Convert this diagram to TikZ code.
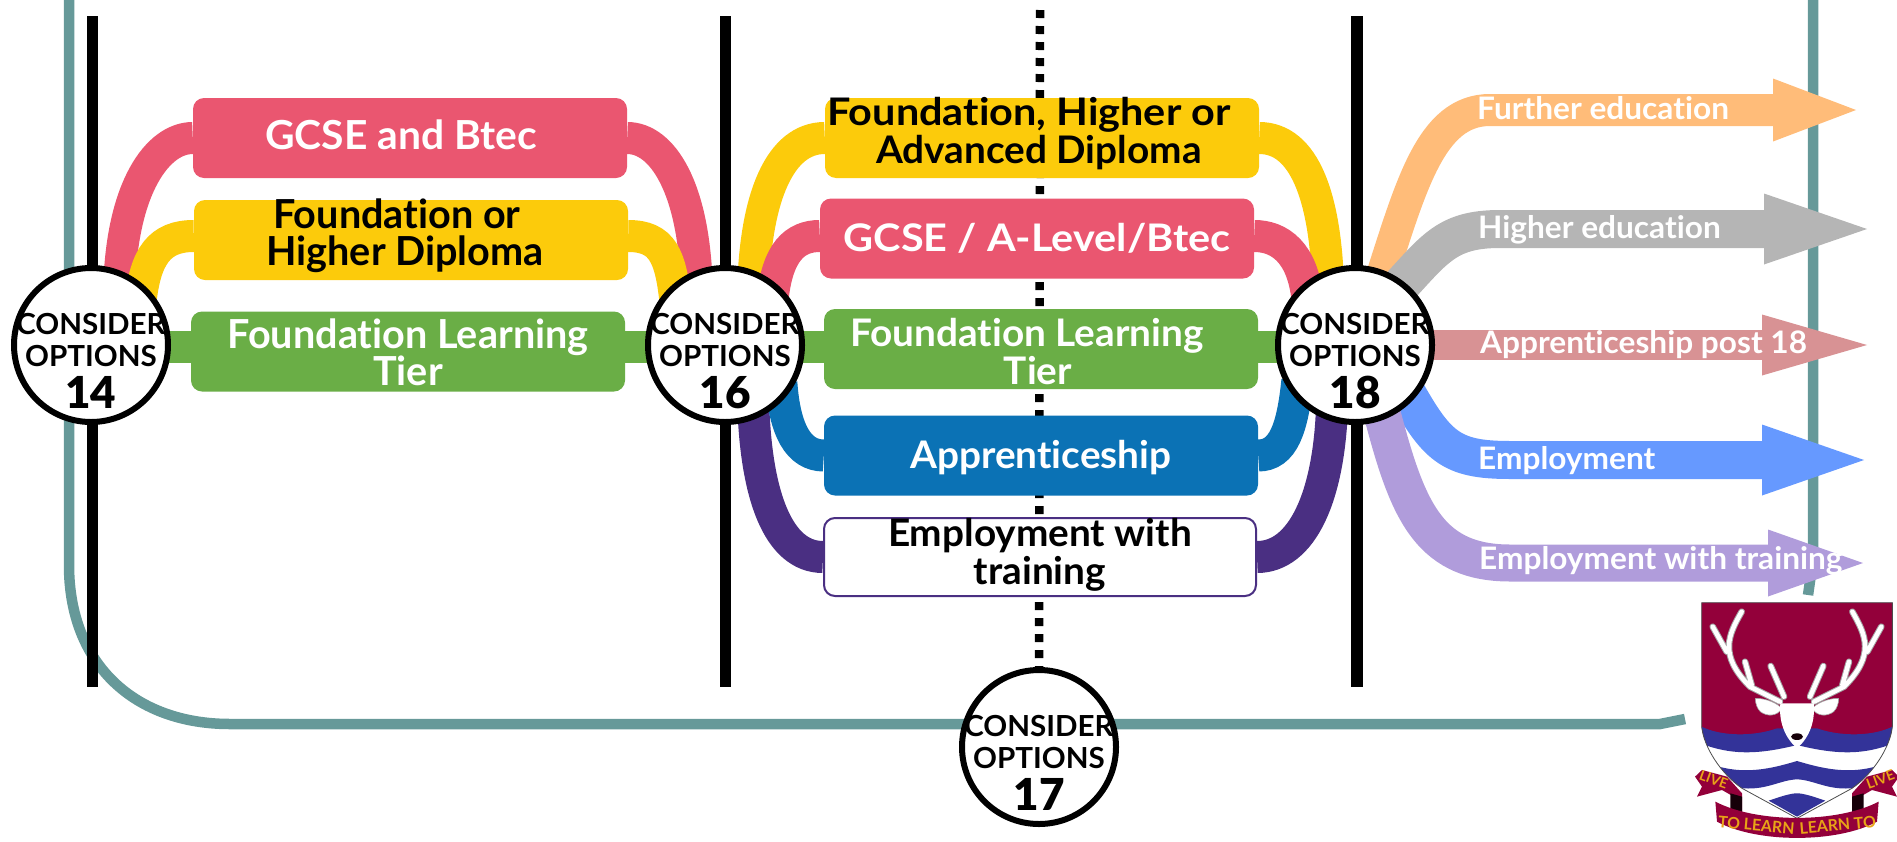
\documentclass[tikz,border=0pt]{standalone}
\usepackage{fontspec}
\usepackage{xcolor}
\usepackage{tikz}
\usetikzlibrary{arrows.meta}
\newfontfamily\tallfont[FakeStretch=0.99, Ligatures=NoCommon]{Lato Bold}
\newfontfamily\widefont[FakeStretch=1.02, Ligatures=NoCommon]{Lato Bold}
\newfontfamily\broadfont[FakeStretch=1.09, Ligatures=NoCommon]{Lato Bold}
\newfontfamily\heavyfont{Lato Black}
\newcommand{\lefttext}{\tallfont\fontsize{40}{37}\selectfont}
\newcommand{\midtext}{\widefont\fontsize{38}{38}\selectfont}
\newcommand{\midbroad}{\broadfont\fontsize{38}{38}\selectfont}
\newcommand{\outtext}{\widefont\fontsize{31}{31}\selectfont}
\newcommand{\numtext}{\heavyfont\fontsize{44}{36}\selectfont}
\definecolor{tealline}{HTML}{669999}
\definecolor{rosecol}{HTML}{EA5670}
\definecolor{goldcol}{HTML}{FCCB0B}
\definecolor{leafcol}{HTML}{6AAE46}
\definecolor{seacol}{HTML}{0B72B5}
\definecolor{plumcol}{HTML}{4A2F82}
\definecolor{peachcol}{HTML}{FFBC79}
\definecolor{greycol}{HTML}{B5B5B5}
\definecolor{dustcol}{HTML}{D89294}
\definecolor{skycol}{HTML}{6699FF}
\definecolor{lilaccol}{HTML}{B09CDB}
\definecolor{crestred}{HTML}{93003A}
\definecolor{crestblue}{HTML}{333399}
\definecolor{crestgold}{HTML}{E8A317}
\pgfdeclarelayer{nodelayer}
\pgfdeclarelayer{edgelayer}
\pgfsetlayers{edgelayer,nodelayer,main}
\tikzset{
  optbox/.style={rectangle, rounded corners=11pt, minimum width=434pt, minimum height=80pt, inner sep=0pt},
  boxtext/.style={align=center, text=white, inner sep=0pt},
  opt/.style={circle, draw, fill=white, line width=6pt, minimum size=154pt, inner sep=0pt},
  opttext/.style={align=center, inner sep=0pt, yshift=-16pt, font=\widefont\fontsize{29}{32}\selectfont},
  band/.style={line width=32pt, shorten <=-18pt},
  outarrow/.style={shorten <=-18pt},
  outtag/.style={anchor=base west, inner sep=0pt, text=white, font=\outtext},
  cresttext/.style={text=crestgold, inner sep=0pt, font=\tallfont\fontsize{#1}{#1}\selectfont}
}
\begin{document}
\begin{tikzpicture}[x=1pt, y=-1pt]
  \useasboundingbox (0,0) rectangle (1897,841);
  \begin{pgfonlayer}{nodelayer}
    \node [optbox, fill=rosecol, label={[boxtext, font=\widefont\fontsize{40}{37}\selectfont, xshift=-9pt, yshift=3pt]center:GCSE and Btec}] (gcsea) at (410,138) {};
    \node [optbox, fill=goldcol, label={[boxtext, font=\lefttext, text=black, yshift=4pt, xshift=-6pt]center:\hspace*{-16pt}Foundation or\\Higher Diploma}] (diploa) at (411,240) {};
    \node [optbox, fill=leafcol, label={[boxtext, font=\lefttext, yshift=-1pt]center:Foundation Learning\\Tier}] (tiera) at (408,351.5) {};
    \node [optbox, fill=goldcol, label={[boxtext, font=\midbroad, text=black, xshift=-13pt, yshift=4pt]center:Foundation, Higher or\\\hspace*{20pt}{\midtext Advanced Diploma}}] (diplob) at (1042,138) {};
    \node [optbox, fill=rosecol, label={[boxtext, font=\midbroad]center:GCSE / A-Level/Btec}] (gcseb) at (1037,238.5) {};
    \node [optbox, fill=leafcol, label={[boxtext, font=\midtext, xshift=-14pt, yshift=-2.5pt]center:Foundation Learning\\\hspace*{22pt}Tier}] (tierb) at (1041,349) {};
    \node [optbox, fill=seacol, label={[boxtext, font=\midtext, yshift=-2pt]center:Apprenticeship}] (appren) at (1041,455.5) {};
    \node [optbox, fill=white, draw=plumcol, line width=2pt, minimum width=432pt, minimum height=78pt, label={[boxtext, font=\midtext, text=black, yshift=2pt]center:Employment with\\training}] (traina) at (1040,557) {};
    \node [opt, label={[opttext]center:CONSIDER\\OPTIONS\\[9pt]{\numtext 14}}] (opta) at (91,345) {};
    \node [opt, label={[opttext]center:CONSIDER\\OPTIONS\\[9pt]{\numtext 16}}] (optb) at (725,345) {};
    \node [opt, label={[opttext]center:CONSIDER\\OPTIONS\\[9pt]{\numtext 18}}] (optc) at (1355,345) {};
    \node [opt, label={[opttext]center:CONSIDER\\OPTIONS\\[9pt]{\numtext 17}}] (optd) at (1039,747) {};
    \node [outtag] (further) at (1477,119) {Further education};
    \node [outtag] (higher) at (1478,238) {Higher education};
    \node [outtag] (post) at (1480,353) {Apprenticeship post 18};
    \node [outtag] (employ) at (1478,469) {Employment};
    \node [outtag] (withtrain) at (1479,569) {Employment with training};
  \end{pgfonlayer}
  \coordinate (furtherend) at (1856,110);
  \coordinate (higherend) at (1867,229);
  \coordinate (postend) at (1867,345);
  \coordinate (employend) at (1864,460);
  \coordinate (trainend) at (1863,563);
  \coordinate (linea) at (92.5,16);
  \coordinate (lineb) at (92.5,687);
  \coordinate (linec) at (725.5,16);
  \coordinate (lined) at (725.5,687);
  \coordinate (linee) at (1357,16);
  \coordinate (linef) at (1357,687);
  \coordinate (dota) at (1040,10);
  \begin{pgfonlayer}{edgelayer}
    \draw [tealline, line width=10.5pt] (69,0) -- (69,565) .. controls (69,665) and (135,724) .. (230,724) -- (1660,724) -- (1685,719);
    \draw [tealline, line width=10.5pt] (1813,0) -- (1813,560) -- (1808,595);
    \draw [line width=11pt] (linea) to (lineb);
    \draw [line width=11pt] (linec) to (lined);
    \draw [line width=11.5pt] (linee) to (linef);
    \draw [line width=8.5pt, dash pattern=on 8pt off 8pt] (dota) to (optd);
    \draw [band, rosecol] (opta.69) .. controls +(2,-83) and +(-35,0) .. (gcsea.west);
    \draw [band, rosecol] (optb.111) .. controls +(-2,-83) and +(35,0) .. (gcsea.east);
    \draw [band, goldcol] (opta.50) .. controls +(3,-28) and +(-34,0) .. ([yshift=4pt]diploa.west);
    \draw [band, goldcol] (optb.130) .. controls +(-3,-28) and +(34,0) .. ([yshift=4pt]diploa.east);
    \draw [band, leafcol] ([yshift=-2pt]opta.center) to ([yshift=4.5pt]tiera.west);
    \draw [band, leafcol] ([yshift=-2pt]optb.center) to ([yshift=4.5pt]tiera.east);
    \draw [band, goldcol] (optb.69) .. controls +(2,-73) and +(-45,0) .. (diplob.west);
    \draw [band, goldcol] (optc.110) .. controls +(-2,-73) and +(45,0) .. (diplob.east);
    \draw [band, rosecol] (optb.52) .. controls +(3,-30) and +(-25,0) .. ([yshift=2.5pt]gcseb.west);
    \draw [band, rosecol] (optc.128) .. controls +(-3,-30) and +(25,0) .. ([yshift=2.5pt]gcseb.east);
    \draw [band, leafcol] ([yshift=-2pt]optb.center) to ([yshift=2pt]tierb.west);
    \draw [band, leafcol] ([yshift=-2pt]optc.center) to ([yshift=2pt]tierb.east);
    \draw [band, plumcol] (optb.-69) .. controls +(2,75) and +(-45,0) .. (traina.west);
    \draw [band, plumcol] (optc.-107) .. controls +(-2,75) and +(45,0) .. (traina.east);
    \draw [band, seacol] (optb.-44) .. controls +(2,30) and +(-25,0) .. (appren.west);
    \draw [band, seacol] (optc.-138) .. controls +(-3,30) and +(25,0) .. (appren.east);
    \draw [outarrow, line width=32pt, peachcol, -{Triangle[length=83pt, width=63pt, line width=0pt]}] (optc.69) .. controls +(27,-83) and +(-60,0) .. (1490,110) -- (furtherend);
    \draw [outarrow, line width=38pt, greycol, -{Triangle[length=103pt, width=71pt, line width=0pt]}] (optc.52) .. controls +(30,-32) and +(-55,0) .. (1500,229) -- (higherend);
    \draw [outarrow, line width=30pt, dustcol, -{Triangle[length=105pt, width=61pt, line width=0pt]}] (optc.center) to (postend);
    \draw [outarrow, line width=38pt, skycol, -{Triangle[length=102pt, width=71pt, line width=0pt]}] (optc.-45) .. controls +(25,45) and +(-60,0) .. (1510,460) -- (employend);
    \draw [outarrow, line width=37pt, lilaccol, -{Triangle[length=95pt, width=67pt, line width=0pt]}] (optc.-69) .. controls +(22,85) and +(-85,0) .. (1510,563) -- (trainend);
  \end{pgfonlayer}
  \begin{scope}[shift={(1797,580)}, x=0.3333pt, y=-0.3333pt]
    \begin{scope}
      \clip (-286,68) -- (286,68) -- (286,440) .. controls (280,500) and (230,580) .. (165,625) -- (0,715) -- (-165,625) .. controls (-230,580) and (-280,500) .. (-286,440) -- cycle;
      \fill [white] (-290,60) rectangle (290,720);
      \fill [crestred] (-290,60) rectangle (290,480);
      \fill [crestblue] (-290,438) .. controls (-230,470) and (-130,470) .. (-60,445) -- (60,445) .. controls (130,470) and (230,470) .. (290,438) -- (290,490) .. controls (200,525) and (120,525) .. (0,495) .. controls (-120,525) and (-200,525) .. (-290,490) -- cycle;
      \fill [crestblue] (-290,540) .. controls (-180,590) and (-90,570) .. (0,543) .. controls (90,570) and (180,590) .. (290,540) -- (290,640) -- (160,625) .. controls (90,630) and (50,600) .. (0,598) .. controls (-50,600) and (-90,630) .. (-160,625) -- (-290,640) -- cycle;
      \fill [crestblue] (-85,662) .. controls (-50,650) and (-20,640) .. (0,640) .. controls (20,640) and (50,650) .. (85,662) -- (0,710) -- cycle;
    \end{scope}
    \draw [black!70, line width=0.8pt] (-286,68) -- (286,68) -- (286,440) .. controls (280,500) and (230,580) .. (165,625) -- (0,715) -- (-165,625) .. controls (-230,580) and (-280,500) .. (-286,440) -- cycle;
    \foreach \flip in {1,-1} {
      \begin{scope}[xscale=\flip]
        \draw [black!35, line width=6.5pt, line cap=round, line join=round] (-166,95) .. controls (-206,165) and (-236,225) .. (-141,320) -- (-51,365) (-253,140) -- (-211,215) (-156,245) -- (-136,315) (-79,258) -- (-39,350);
        \draw [white, line width=4.5pt, line cap=round, line join=round] (-166,95) .. controls (-206,165) and (-236,225) .. (-141,320) -- (-51,365) (-253,140) -- (-211,215) (-156,245) -- (-136,315) (-79,258) -- (-39,350);
        \draw [black!35, fill=white, line width=0.6pt] (-125,355) .. controls (-90,355) and (-60,370) .. (-45,385) .. controls (-60,410) and (-90,410) .. (-110,395) .. controls (-120,385) and (-125,370) .. (-125,355) -- cycle;
        \fill [crestred] (-306,590) -- (-285,570) -- (-210,590) -- (-165,640) -- (-165,700) -- (-190,650) -- (-225,630) -- (-300,650) -- (-285,620) -- cycle;
        \fill [black!85!crestred] (-200,640) -- (-165,650) -- (-165,705) -- (-200,690) -- cycle;
      \end{scope}
    }
    \fill [white] (-50,370) -- (50,370) .. controls (55,420) and (40,470) .. (0,505) .. controls (-40,470) and (-55,420) .. (-50,370) -- cycle;
    \fill [black!85!crestred] (0,470) ellipse [x radius=18, y radius=10];
    \fill [crestred] (-245,665) .. controls (-120,730) and (120,730) .. (245,665) -- (240,725) .. controls (120,790) and (-120,790) .. (-240,725) -- cycle;
    \node [cresttext=14, rotate=-20] (livea) at (-250,598) {LIVE};
    \node [cresttext=14, rotate=20] (liveb) at (250,598) {LIVE};
    \node [cresttext=16, rotate=-5] (learna) at (-122,735) {TO LEARN};
    \node [cresttext=16, rotate=5] (learnb) at (122,735) {LEARN TO};
  \end{scope}
\end{tikzpicture}
\end{document}
